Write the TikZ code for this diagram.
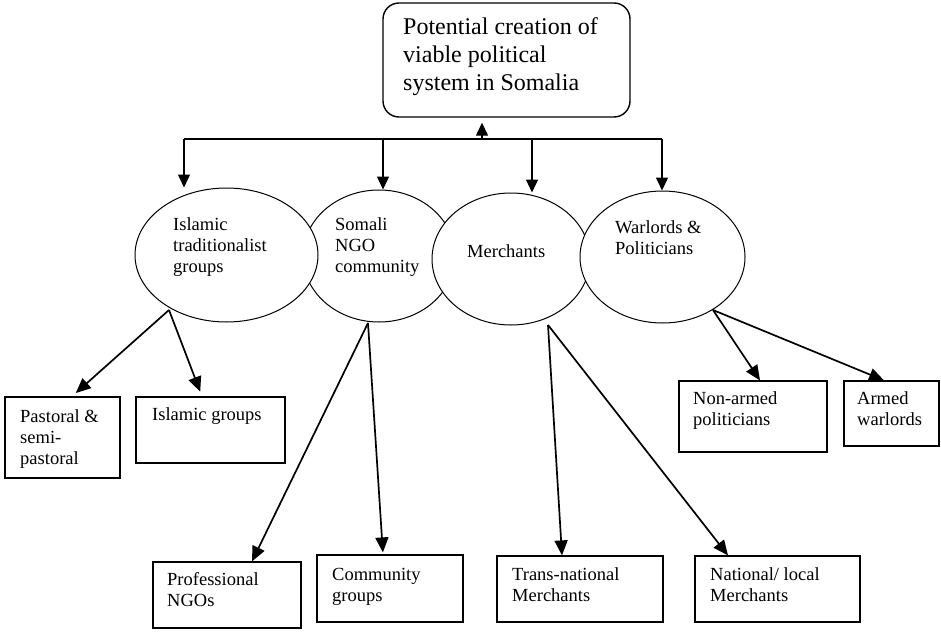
\documentclass[tikz,border=0pt]{standalone}
\usepackage{fontspec}
\setmainfont{Liberation Serif}
\usetikzlibrary{arrows.meta,shapes.geometric}
\begin{document}
\begin{tikzpicture}[x=1pt,y=-1pt,
  txt/.style={font=\fontsize{18.5}{21}\selectfont, align=left, inner sep=0pt, anchor=base west},
  ttl/.style={font=\fontsize{24}{28}\selectfont, align=left, inner sep=0pt, anchor=base west},
  ell/.style={draw, ellipse, fill=white, line width=1pt, inner sep=0pt},
  bx/.style={draw, rectangle, line width=1.2pt, inner sep=0pt},
  bus/.style={line width=1.3pt},
  busarr/.style={line width=1.3pt, -{Triangle[length=13pt,width=12pt]}},
  kid/.style={line width=1.7pt, -{Triangle[length=15pt,width=13pt]}}
]
\useasboundingbox (0,0) rectangle (941,631);

% top box
\node[draw, rounded corners=16pt, line width=1.4pt, minimum width=247pt, minimum height=114pt] (top) at (506.5,60) {};
\node[ttl] (toptxt) at (403,91) {Potential creation of\\viable political\\system in Somalia};

% ellipses (drawing order gives overlaps)
\node[ell, minimum width=152pt, minimum height=132pt] (ngo) at (379,256) {};
\node[ell, minimum width=183pt, minimum height=134pt] (isl) at (226.5,255) {};
\node[ell, minimum width=158pt, minimum height=132pt] (mer) at (511,259) {};
\node[ell, minimum width=165pt, minimum height=132pt] (war) at (662.5,257) {};

\node[txt] (isltxt) at (173,272) {Islamic\\traditionalist\\groups};
\node[txt] (ngotxt) at (335,272) {Somali\\NGO\\community};
\node[txt] (mertxt) at (467,257) {Merchants};
\node[txt] (wartxt) at (615,254) {Warlords \&\\Politicians};

% bus
\coordinate (d1) at (184,139);
\coordinate (d2) at (383,139);
\coordinate (d3) at (532,139);
\coordinate (d4) at (662,139);
\coordinate (up) at (482,139);
\draw[bus] (d1) -- (d4);
\draw[busarr, shorten >=5pt] (up) -- (up |- top.south);
\draw[busarr] (d1) -- (d1 |- isl.north);
\draw[busarr] (d2) -- (d2 |- ngo.north);
\draw[busarr] (d3) -- (d3 |- mer.north);
\draw[busarr] (d4) -- (d4 |- war.north);

% child boxes
\node[bx, minimum width=115pt, minimum height=81pt] (pas) at (62.5,437.5) {};
\node[bx, minimum width=149pt, minimum height=66pt] (islg) at (210.5,430) {};
\node[bx, minimum width=148pt, minimum height=66pt] (prof) at (227,595) {};
\node[bx, minimum width=146pt, minimum height=67pt] (comm) at (390,588.5) {};
\node[bx, minimum width=166pt, minimum height=66pt] (trans) at (580,589) {};
\node[bx, minimum width=165pt, minimum height=66pt] (natl) at (777.5,589) {};
\node[bx, minimum width=148pt, minimum height=71pt] (nonarm) at (753,416.5) {};
\node[bx, minimum width=95pt, minimum height=65pt] (armed) at (891.5,413.5) {};

\node[txt] (pastxt) at (20,464) {Pastoral \&\\semi-\\pastoral};
\node[txt] (islgtxt) at (152,420) {Islamic groups};
\node[txt] (proftxt) at (167,606) {Professional\\NGOs};
\node[txt] (commtxt) at (332,601) {Community\\groups};
\node[txt] (transtxt) at (512,601) {Trans-national\\Merchants};
\node[txt] (natltxt) at (710,601) {National/ local\\Merchants};
\node[txt] (nonarmtxt) at (693,425) {Non-armed\\politicians};
\node[txt] (armedtxt) at (857,425) {Armed\\warlords};

% child connectors
\coordinate (islS) at (169,310);
\coordinate (ngoS) at (368,323);
\coordinate (merS) at (548,325);
\coordinate (warS) at (713,310);
\draw[kid, shorten >=5pt] (islS) -- ([xshift=9.5pt]pas.north);
\draw[kid, shorten >=5pt] (islS) -- ([xshift=-8.5pt]islg.north);
\draw[kid] (ngoS) -- ([xshift=25pt]prof.north);
\draw[kid, shorten >=2pt] (ngoS) -- ([xshift=-7pt]comm.north);
\draw[kid] (merS) -- ([xshift=-18pt]trans.north);
\draw[kid] (merS) -- ([xshift=-49.5pt]natl.north);
\draw[kid] (warS) -- ([xshift=7pt]nonarm.north);
\draw[kid] (warS) -- ([xshift=-7.5pt]armed.north);
\end{tikzpicture}
\end{document}
